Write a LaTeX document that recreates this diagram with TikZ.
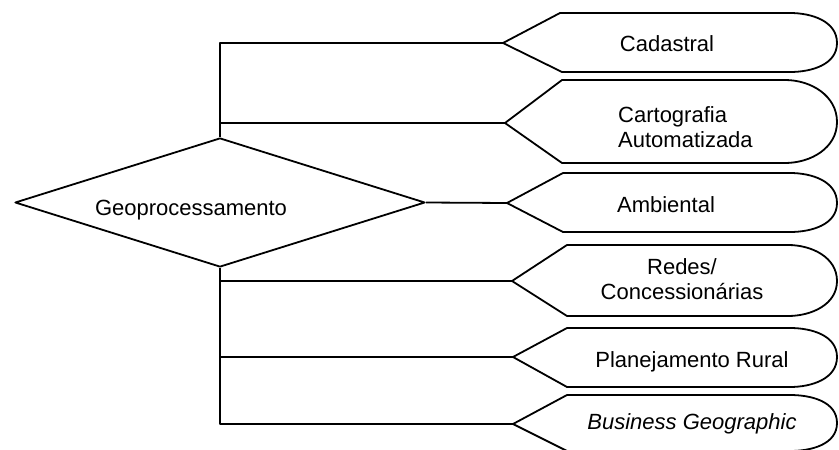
\documentclass[tikz,border=0pt]{standalone}
\usepackage{fontspec}
\setmainfont{Liberation Sans}
\usetikzlibrary{shapes.geometric}

\tikzset{
  line/.style={line width=1.8pt, line join=round},
  lbl/.style={inner sep=0pt, font=\fontsize{22}{24.5}\selectfont},
  disp/.style={line, fill=white},
}

\begin{document}
\begin{tikzpicture}[x=1pt, y=-1pt]
\useasboundingbox (0,0) rectangle (839,450);

% central decision diamond
\node[diamond, draw, line, minimum width=410pt, minimum height=129pt,
      inner sep=0pt] (geo) at (220,202.5) {};
\node[lbl, anchor=base] (geotxt) at (191,215) {Geoprocessamento};

% application areas: pointed left end, rounded right end
\coordinate (cad-tip) at (503,43);
\draw[disp] (cad-tip) -- (560,13) -- (790,13) to[out=0,in=90] (837,43)
  to[out=-90,in=0] (790,72) -- (562,72) -- cycle;
\node[lbl, anchor=base] (cad) at (667,51) {Cadastral};

\coordinate (car-tip) at (505,123);
\draw[disp] (car-tip) -- (562,80) -- (785,80) to[out=0,in=90] (837,122)
  to[out=-90,in=0] (785,163) -- (562,163) -- cycle;
\node[lbl, anchor=west, align=left] (car) at (618,127) {Cartografia\\Automatizada};

\coordinate (amb-tip) at (507,203);
\draw[disp] (amb-tip) -- (563,173) -- (790,173) to[out=0,in=90] (837,203)
  to[out=-90,in=0] (790,232) -- (563,232) -- cycle;
\node[lbl, anchor=base] (amb) at (666,212) {Ambiental};

\coordinate (red-tip) at (512,281);
\draw[disp] (red-tip) -- (567,245) -- (788,245) to[out=0,in=90] (837,281)
  to[out=-90,in=0] (788,316) -- (567,316) -- cycle;
\node[lbl, align=center] (red) at (682,279) {Redes/\\Concession\'arias};

\coordinate (pla-tip) at (513,357);
\draw[disp] (pla-tip) -- (567,328) -- (790,328) to[out=0,in=90] (837,357)
  to[out=-90,in=0] (790,387) -- (567,387) -- cycle;
\node[lbl, anchor=base] (pla) at (692,367) {Planejamento Rural};

\coordinate (bus-tip) at (513,424);
\draw[disp] (bus-tip) -- (567,395) -- (790,395) to[out=0,in=90] (837,423)
  to[out=-90,in=0] (790,451) -- (567,451) -- cycle;
\node[lbl, anchor=base, font=\fontsize{22}{24.5}\selectfont\itshape] (bus) at (692,429) {Business Geographic};

% connectors from the diamond to each area
\draw[line] (geo.north) |- (cad-tip);
\draw[line] (geo.north |- car-tip) -- (car-tip);
\draw[line] (geo.east) -- (amb-tip);
\draw[line] (geo.south) |- (bus-tip);
\draw[line] (geo.south |- red-tip) -- (red-tip);
\draw[line] (geo.south |- pla-tip) -- (pla-tip);
\end{tikzpicture}
\end{document}
